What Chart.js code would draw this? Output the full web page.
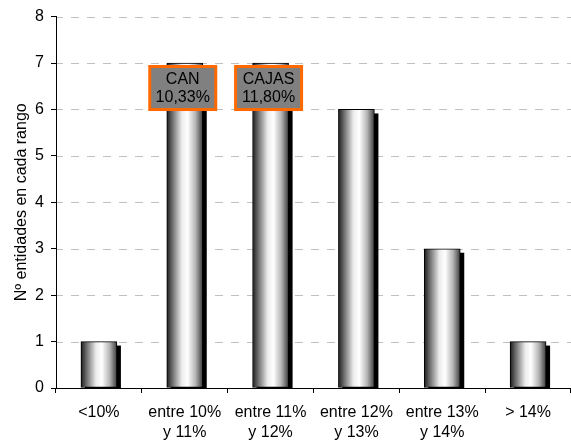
<!DOCTYPE html>
<html>
<head>
<meta charset="utf-8">
<script src="https://cdn.jsdelivr.net/npm/chart.js@4/dist/chart.umd.min.js"></script>
<style>
  html, body { margin: 0; padding: 0; background: #ffffff; }
  #wrap { width: 571px; height: 446px; }
</style>
</head>
<body>
<div id="wrap"><canvas id="c" width="571" height="446"></canvas></div>
<script>
// Rangos de la ratio y número de entidades en cada uno
const categories = [
  ['<10%'],
  ['entre 10%', 'y 11%'],
  ['entre 11%', 'y 12%'],
  ['entre 12%', 'y 13%'],
  ['entre 13%', 'y 14%'],
  ['> 14%']
];
const entityCounts = [1, 7, 7, 6, 3, 1];
const yTicks = [0, 1, 2, 3, 4, 5, 6, 7, 8];

// Etiquetas destacadas sobre las barras
const calloutIndex = [1, 2];
const calloutName = ['CAN', 'CAJAS'];
const calloutRatio = ['10,33%', '11,80%'];

const FONT = '"Liberation Sans", Arial, sans-serif';

// Relleno cilíndrico: oscuro en los bordes, brillo a la derecha del centro
function cylinderFill(ctx) {
  const chart = ctx.chart;
  const xs = chart.scales.x;
  if (!xs || ctx.dataIndex === undefined) return '#cccccc';
  const cx = xs.getPixelForValue(ctx.dataIndex);
  if (!isFinite(cx)) return '#cccccc';
  const half = 18;
  const g = chart.ctx.createLinearGradient(cx - half, 0, cx + half, 0);
  g.addColorStop(0.00, '#1c1c1c');
  g.addColorStop(0.15, '#6a6a6a');
  g.addColorStop(0.42, '#ececec');
  g.addColorStop(0.58, '#ffffff');
  g.addColorStop(0.80, '#b4b4b4');
  g.addColorStop(1.00, '#3c3c3c');
  return g;
}

// Líneas de división horizontales discontinuas en cada marca del eje Y
const dashedGrid = {
  id: 'dashedGrid',
  beforeDatasetsDraw(chart) {
    const c = chart.ctx;
    const ys = chart.scales.y;
    const area = chart.chartArea;
    c.save();
    c.strokeStyle = '#c0c0c0';
    c.lineWidth = 1;
    c.setLineDash([8, 8]);
    c.lineDashOffset = 2;
    ys.ticks.forEach(t => {
      if (t.value === 0) return;
      const y = Math.round(ys.getPixelForValue(t.value)) + 0.5;
      c.beginPath();
      c.moveTo(area.left + 1, y);
      c.lineTo(area.right, y);
      c.stroke();
    });
    c.restore();
  }
};

// Sombra negra desplazada detrás de cada barra (a partir de los elementos de la serie)
const barShadow = {
  id: 'barShadow',
  beforeDatasetDraw(chart, args) {
    const c = chart.ctx;
    const area = chart.chartArea;
    const off = 4;
    c.save();
    c.beginPath();
    c.rect(area.left, area.top, area.right - area.left, area.bottom - area.top);
    c.clip();
    c.fillStyle = '#000000';
    args.meta.data.forEach(bar => {
      const p = bar.getProps(['x', 'y', 'base', 'width'], true);
      c.fillRect(p.x - p.width / 2 + off, p.y + off, p.width, p.base - p.y);
    });
    c.restore();
  }
};

// Recuadros grises con borde naranja sobre las barras indicadas
const callouts = {
  id: 'callouts',
  afterDatasetsDraw(chart) {
    const c = chart.ctx;
    const meta = chart.getDatasetMeta(0);
    calloutIndex.forEach((idx, i) => {
      const bar = meta.data[idx];
      if (!bar) return;
      const w = 66, h = 43;
      const cx = bar.x - 2;
      const top = bar.y + 3.5;
      c.save();
      c.fillStyle = '#808080';
      c.fillRect(cx - w / 2, top, w, h);
      c.lineWidth = 3;
      c.strokeStyle = '#ff6a00';
      c.strokeRect(cx - w / 2, top, w, h);
      c.fillStyle = '#000000';
      c.font = '16px ' + FONT;
      c.textAlign = 'center';
      c.textBaseline = 'middle';
      c.fillText(calloutName[i], cx, top + 13);
      c.fillText(calloutRatio[i], cx, top + 31);
      c.restore();
    });
  }
};

new Chart(document.getElementById('c'), {
  type: 'bar',
  data: {
    labels: categories,
    datasets: [{
      data: entityCounts,
      backgroundColor: cylinderFill,
      borderColor: '#000000',
      borderWidth: 1,
      borderSkipped: false,
      barThickness: 36
    }]
  },
  plugins: [dashedGrid, barShadow, callouts],
  options: {
    responsive: false,
    animation: false,
    devicePixelRatio: 1,
    layout: { padding: { top: 15, right: 0, left: 0, bottom: 0 } },
    plugins: {
      legend: { display: false },
      tooltip: { enabled: false }
    },
    scales: {
      x: {
        offset: true,
        grid: {
          offset: true,
          drawOnChartArea: false,
          drawTicks: true,
          tickLength: 5,
          tickColor: '#000000'
        },
        border: { display: true, color: '#000000', width: 1 },
        ticks: {
          color: '#000000',
          font: { family: FONT, size: 16, lineHeight: 1.25 },
          padding: 10,
          maxRotation: 0,
          autoSkip: false
        },
        afterFit(scale) { scale.height = 58; }
      },
      y: {
        min: 0,
        max: 8,
        afterBuildTicks(scale) { scale.ticks = yTicks.map(v => ({ value: v })); },
        grid: {
          drawOnChartArea: false,
          color: '#c0c0c0',
          tickColor: '#000000',
          tickLength: 5
        },
        border: { display: true, color: '#000000', width: 1 },
        ticks: {
          color: '#000000',
          font: { family: FONT, size: 16 },
          padding: 7
        },
        title: {
          display: true,
          text: 'Nº entidades en cada rango',
          color: '#000000',
          font: { family: FONT, size: 16 },
          padding: { top: 12, bottom: 0 }
        },
        afterFit(scale) { scale.width = 56; }
      }
    }
  }
});
</script>
</body>
</html>
